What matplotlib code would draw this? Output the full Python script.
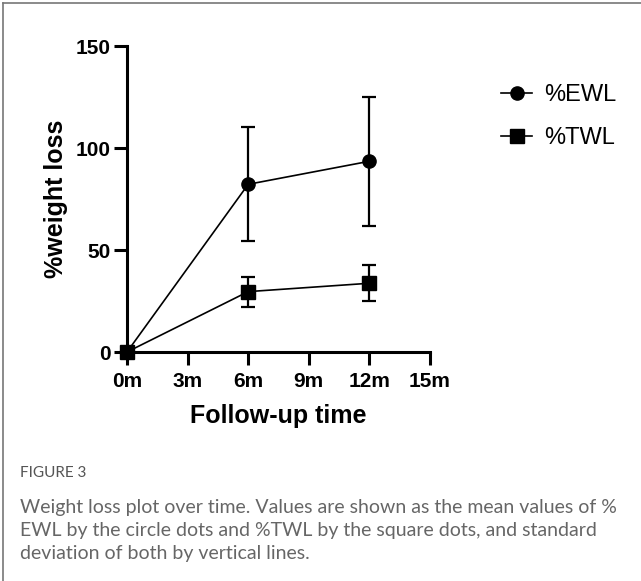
import numpy as np
import matplotlib
matplotlib.use("Agg")
import matplotlib.pyplot as plt
from matplotlib.lines import Line2D

months = [0, 6, 12]
ewl_mean = [0, 82.2, 93.5]
ewl_sd = [0, 28.0, 31.7]
twl_mean = [0, 29.6, 33.7]
twl_sd = [0, 7.4, 8.9]
xtick_vals = [0, 3, 6, 9, 12, 15]
xtick_labels = ["0m", "3m", "6m", "9m", "12m", "15m"]
ytick_vals = [0, 50, 100, 150]

caption_title = "FIGURE 3"
caption_lines = [
    "Weight loss plot over time. Values are shown as the mean values of %",
    "EWL by the circle dots and %TWL by the square dots, and standard",
    "deviation of both by vertical lines.",
]

plt.rcParams['font.family'] = ['Liberation Sans', 'DejaVu Sans']

fig = plt.figure(figsize=(6.41, 5.81), dpi=100)
ax = fig.add_axes([127 / 641, 1 - 352 / 581, (430 - 127) / 641, (352 - 46) / 581])

for mean, sd, mk in [(ewl_mean, ewl_sd, 'o'), (twl_mean, twl_sd, 's')]:
    ax.errorbar(months, mean, yerr=sd, color='black', marker=mk, markersize=9.5,
                linewidth=1.2, elinewidth=1.6, capsize=5, capthick=1.6, clip_on=False, zorder=3)

ax.set_xlim(0, 15)
ax.set_ylim(0, 150)
ax.set_xticks(xtick_vals)
ax.set_xticklabels(xtick_labels)
ax.set_yticks(ytick_vals)
for s in ['top', 'right']:
    ax.spines[s].set_visible(False)
for s in ['left', 'bottom']:
    ax.spines[s].set_linewidth(2.2)
ax.tick_params(width=2.2, length=9.5, labelsize=15, pad=2)
ax.tick_params(axis='x', pad=5)
for lab in ax.get_xticklabels() + ax.get_yticklabels():
    lab.set_fontweight('bold')
ax.set_xlabel("Follow-up time", fontsize=18, fontweight='bold', labelpad=9)
ax.set_ylabel("%weight loss", fontsize=18, fontweight='bold', labelpad=6)

handles = [Line2D([], [], color='black', marker='o', markersize=9.5, linewidth=1.2),
           Line2D([], [], color='black', marker='s', markersize=9.5, linewidth=1.2)]
fig.legend(handles, ["%EWL", "%TWL"], loc='upper left', bbox_to_anchor=(480 / 641, 1 - 63 / 581),
           frameon=False, fontsize=17, handlelength=1.3, handletextpad=0.5, labelspacing=0.9)

# frame lines of the page box
fig.add_artist(Line2D([3 / 641, 3 / 641], [0, 1 - 3 / 581], color='#777777', linewidth=1.2))
fig.add_artist(Line2D([3 / 641, 1], [1 - 3 / 581, 1 - 3 / 581], color='#777777', linewidth=1.2))

fig.text(20 / 641, 1 - 473 / 581, caption_title, fontsize=11, color='#555555',
         family=['Lato', 'DejaVu Sans'], va='center')
for i, line in enumerate(caption_lines):
    fig.text(20 / 641, 1 - (507 + i * 23.5) / 581, line, fontsize=14, color='#666666',
             family=['Lato', 'DejaVu Sans'], va='center')

fig.savefig("out.png", dpi=100)
